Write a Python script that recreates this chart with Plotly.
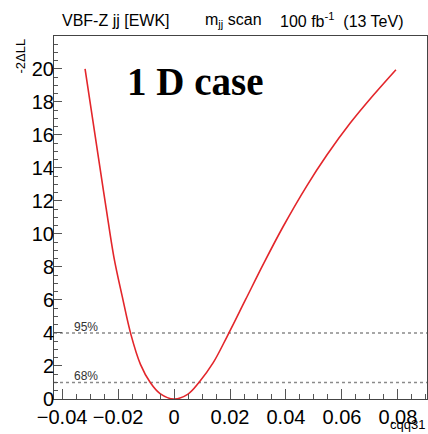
import plotly.graph_objects as go

# Scan of -2ΔLL versus cqq31
cqq31 = [-0.0318, -0.0270, -0.0243, -0.0215, -0.0185, -0.0154, -0.0120,
         -0.0085, -0.0050, 0.0, 0.0050, 0.0089, 0.0140, 0.0190, 0.0255,
         0.0320, 0.0390, 0.0474, 0.0545, 0.0629, 0.0712, 0.0793]
m2dll = [20.0, 14.6, 11.6, 8.6, 6.2, 3.9, 2.1,
         1.0, 0.33, 0.0, 0.3, 1.0, 2.2, 3.8, 6.0,
         8.2, 10.45, 12.9, 14.75, 16.7, 18.4, 19.95]

cl_levels = [1.0, 4.0]
cl_labels = ["68%", "95%"]

x_range = [-0.0429, 0.0904]
y_range = [0, 21.99]

W, H = 428, 434
L, R, T, B = 54, 1, 36, 35
PW = W - L - R
PH = H - T - B

def px(xpix):
    return (xpix - L) / PW

def py(ypix):
    return 1 - (ypix - T) / PH

fig = go.Figure()

for lvl in cl_levels:
    fig.add_trace(go.Scatter(x=x_range, y=[lvl, lvl], mode="lines",
                             line=dict(color="#8a8a8a", width=1.5, dash="dot"),
                             hoverinfo="skip", showlegend=False))

fig.add_trace(go.Scatter(x=cqq31, y=m2dll, mode="lines",
                         line=dict(color="#e3262b", width=1.6, shape="spline", smoothing=1.0),
                         showlegend=False))

annotations = []
for lvl, lab in zip(cl_levels, cl_labels):
    annotations.append(dict(x=px(72), y=lvl, xref="paper", yref="y", text=lab,
                            showarrow=False, xanchor="left", yanchor="bottom",
                            yshift=-3,
                            font=dict(family="Liberation Sans, Arial", size=12, color="#333")))

title_font = dict(family="Liberation Sans, Arial", size=16, color="black")
for xp, txt in [(60, "VBF-Z jj [EWK]"), (203, "m<sub>jj</sub> scan"),
                (278, "100 fb<sup>-1</sup>  (13 TeV)")]:
    annotations.append(dict(x=px(xp), y=py(20), xref="paper", yref="paper", text=txt,
                            showarrow=False, xanchor="left", yanchor="middle", font=title_font))

annotations.append(dict(x=px(195), y=py(81), xref="paper", yref="paper",
                        text="<b>1 D case</b>", showarrow=False, xanchor="center", yanchor="middle",
                        font=dict(family="Liberation Serif, Times New Roman, serif", size=39, color="black")))

annotations.append(dict(x=px(20), y=py(37), xref="paper", yref="paper",
                        text="-2ΔLL", textangle=-90, showarrow=False,
                        xanchor="center", yanchor="top",
                        font=dict(family="Liberation Sans, Arial", size=13, color="black")))

annotations.append(dict(x=1, y=py(434), xref="paper", yref="paper",
                        text="cqq31", showarrow=False, xanchor="right", yanchor="bottom",
                        font=dict(family="Liberation Sans, Arial", size=13, color="black")))

axis_common = dict(showgrid=False, zeroline=False, showline=True, linecolor="#444",
                   linewidth=1, mirror=True, ticks="inside", tickcolor="#555",
                   tickfont=dict(family="Liberation Sans, Arial", size=20, color="black"))

fig.update_layout(
    width=W, height=H,
    margin=dict(l=L, r=R, t=T, b=B),
    paper_bgcolor="white", plot_bgcolor="white",
    xaxis=dict(range=x_range, tick0=0, dtick=0.02, ticklen=10, tickwidth=1,
               minor=dict(dtick=0.005, ticklen=5, ticks="inside", tickcolor="#555"),
               **axis_common),
    yaxis=dict(range=y_range, tick0=0, dtick=2, ticklen=8, tickwidth=1,
               minor=dict(dtick=0.5, ticklen=4, ticks="inside", tickcolor="#555"),
               ticklabelstandoff=-5,
               **axis_common),
    annotations=annotations,
)

fig.write_html("out.html")
